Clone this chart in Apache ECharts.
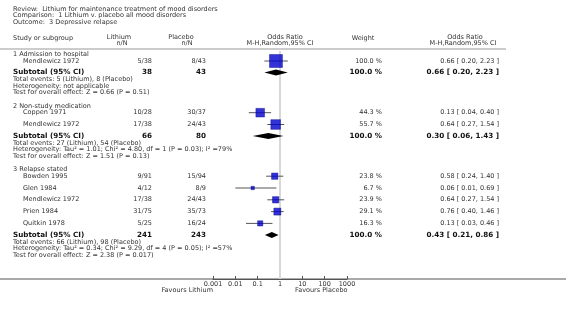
<!DOCTYPE html>
<html><head><meta charset="utf-8">
<script src="https://cdn.jsdelivr.net/npm/echarts@6/dist/echarts.min.js"></script>
<style>html,body{margin:0;padding:0;background:#fff}#c{width:566px;height:309px}</style>
</head><body><div id="c"></div>
<script>
// ---------- data ----------
const titleLines = ['Review:  Lithium for maintenance treatment of mood disorders','Comparison:  1 Lithium v. placebo all mood disorders','Outcome:  3 Depressive relapse'];
const groupTitles = ['1 Admission to hospital','2 Non-study medication','3 Relapse stated'];
const studyNames = ['Mendlewicz 1972','Coppen 1971','Mendlewicz 1972','Bowden 1995','Glen 1984','Mendlewicz 1972','Prien 1984','Quitkin 1978'];
const studyGroup = [0,1,1,2,2,2,2,2];
const lithiumEvents = [5,10,17,9,4,17,31,5];
const lithiumTotal = [38,28,38,91,12,38,75,25];
const placeboEvents = [8,30,24,15,8,24,35,16];
const placeboTotal = [43,37,43,94,9,43,73,24];
const studyOR = [0.66,0.13,0.64,0.58,0.06,0.64,0.76,0.13];
const studyLo = [0.20,0.04,0.27,0.24,0.01,0.27,0.40,0.03];
const studyHi = [2.23,0.40,1.54,1.40,0.69,1.54,1.46,0.46];
const studyWeight = [100.0,44.3,55.7,23.8,6.7,23.9,29.1,16.3];
const subtotalOR = [0.66,0.30,0.43];
const subtotalLo = [0.20,0.06,0.21];
const subtotalHi = [2.23,1.43,0.86];
const heterogeneityText = ['Heterogeneity: not applicable','Heterogeneity: Tau\u00b2 = 1.01; Chi\u00b2 = 4.80, df = 1 (P = 0.03); I\u00b2 =79%','Heterogeneity: Tau\u00b2 = 0.34; Chi\u00b2 = 9.29, df = 4 (P = 0.05); I\u00b2 =57%'];
const overallEffectText = ['Test for overall effect: Z = 0.66 (P = 0.51)','Test for overall effect: Z = 1.51 (P = 0.13)','Test for overall effect: Z = 2.38 (P = 0.017)'];
const tickValues = [0.001,0.01,0.1,1,10,100,1000];
const tickLabels = ['0.001','0.01','0.1','1','10','100','1000'];
const favoursLeft = 'Favours Lithium';
const favoursRight = 'Favours Placebo';

// ---------- layout ----------
const F = '"DejaVu Sans", Verdana, sans-serif';
const fReg = '6.5px ' + F;
const fBold = 'bold 7.2px ' + F;
const TXT = '#333';
const X = {name:13, study:23, lith:152, plac:206, weight:382, ci:499};
const rowY = {group:[], study:[], subtotal:[], events:[], het:[], test:[]};
let yy = 54.5;
for (let g = 0; g < groupTitles.length; g++) {
  rowY.group[g] = yy;
  let first = true;
  for (let i = 0; i < studyNames.length; i++) {
    if (studyGroup[i] !== g) continue;
    yy += first ? 6.5 : 11.8; first = false;
    rowY.study[i] = yy;
  }
  yy += 11.5; rowY.subtotal[g] = yy;
  yy += 7.3; rowY.events[g] = yy;
  yy += 6.4; rowY.het[g] = yy;
  yy += 6.4; rowY.test[g] = yy;
  yy += 13.6;
}

const g = [];
function txt(s, x, y, font, align, fill) {
  g.push({type:'text', x:x, y:y, silent:true, style:{text:s, font:font, fill:fill||TXT, align:align||'left', verticalAlign:'middle'}});
}
txt(titleLines[0], 13, 9, fReg);
txt(titleLines[1], 13, 15.5, fReg);
txt(titleLines[2], 13, 22, fReg);
txt('Study or subgroup', 13, 38, fReg);
txt('Lithium', 119, 37, fReg, 'center');
txt('n/N', 122, 43, fReg, 'center');
txt('Placebo', 181, 37, fReg, 'center');
txt('n/N', 187, 43, fReg, 'center');
txt('Odds Ratio', 285, 37, fReg, 'center');
txt('M-H,Random,95% CI', 280, 43, fReg, 'center');
txt('Weight', 363, 38, fReg, 'center');
txt('Odds Ratio', 465, 37, fReg, 'center');
txt('M-H,Random,95% CI', 463, 43, fReg, 'center');
g.push({type:'line', silent:true, shape:{x1:0,y1:49,x2:506,y2:49}, style:{stroke:'#999', lineWidth:1.2}});
g.push({type:'line', silent:true, shape:{x1:0,y1:279,x2:566,y2:279}, style:{stroke:'#555', lineWidth:1}});

const fmt2 = v => v.toFixed(2);
for (let k = 0; k < groupTitles.length; k++) {
  txt(groupTitles[k], X.name, rowY.group[k], fReg);
  let le=0, ln=0, pe=0, pn=0;
  for (let i = 0; i < studyNames.length; i++) {
    if (studyGroup[i] !== k) continue;
    le += lithiumEvents[i]; ln += lithiumTotal[i]; pe += placeboEvents[i]; pn += placeboTotal[i];
    const y = rowY.study[i];
    txt(studyNames[i], X.study, y, fReg);
    txt(lithiumEvents[i] + '/' + lithiumTotal[i], X.lith, y, fReg, 'right');
    txt(placeboEvents[i] + '/' + placeboTotal[i], X.plac, y, fReg, 'right');
    txt(studyWeight[i].toFixed(1) + ' %', X.weight, y, fReg, 'right');
    txt(fmt2(studyOR[i]) + ' [ ' + fmt2(studyLo[i]) + ', ' + fmt2(studyHi[i]) + ' ]', X.ci, y, fReg, 'right');
  }
  const ys = rowY.subtotal[k];
  txt('Subtotal (95% CI)', X.name, ys, fBold, 'left', '#111');
  txt(String(ln), X.lith, ys, fBold, 'right', '#111');
  txt(String(pn), X.plac, ys, fBold, 'right', '#111');
  txt('100.0 %', X.weight, ys, fBold, 'right', '#111');
  txt(fmt2(subtotalOR[k]) + ' [ ' + fmt2(subtotalLo[k]) + ', ' + fmt2(subtotalHi[k]) + ' ]', X.ci, ys, fBold, 'right', '#111');
  txt('Total events: ' + le + ' (Lithium), ' + pe + ' (Placebo)', X.name, rowY.events[k], fReg);
  txt(heterogeneityText[k], X.name, rowY.het[k], fReg);
  txt(overallEffectText[k], X.name, rowY.test[k], fReg);
}
txt(favoursLeft, 213, 290, fReg, 'right');
txt(favoursRight, 295, 290, fReg, 'left');

// ---------- series data ----------
const L = Math.log10;
const ciData = studyNames.map((_, i) => [L(studyLo[i]), L(studyHi[i]), rowY.study[i]]);
const boxData = studyNames.map((_, i) => ({value:[L(studyOR[i]), rowY.study[i]], symbolSize: 13*Math.sqrt(studyWeight[i]/100)}));
const diaData = groupTitles.map((_, k) => [L(subtotalLo[k]), L(subtotalOR[k]), L(subtotalHi[k]), rowY.subtotal[k]]);

const chart = echarts.init(document.getElementById('c'), null, {renderer:'canvas'});
chart.setOption({
  animation:false,
  backgroundColor:'#fff',
  grid:{left:213, right:566-347, top:0, bottom:309-279, containLabel:false},
  xAxis:{type:'value', position:'bottom', min:L(tickValues[0]), max:L(tickValues[tickValues.length-1]), interval:1,
    axisLine:{show:true, onZero:false, lineStyle:{color:'#555', width:1}},
    axisTick:{show:true, inside:true, length:3, lineStyle:{color:'#555'}},
    axisLabel:{fontSize:6.5, fontFamily:'DejaVu Sans', color:TXT, margin:2,
      formatter: v => tickLabels[Math.round(v - L(tickValues[0]))]},
    splitLine:{show:false}},
  yAxis:{type:'value', min:0, max:279, inverse:true, show:false},
  graphic:{elements:g},
  series:[
    {type:'line', data:[[0,51],[0,279]], symbol:'none', silent:true, lineStyle:{color:'#d8d8d8', width:2}, z:1},
    {type:'custom', silent:true, z:2, data:ciData,
      renderItem:(p, api) => {
        const a = api.coord([api.value(0), api.value(2)]);
        const b = api.coord([api.value(1), api.value(2)]);
        return {type:'line', shape:{x1:a[0], y1:a[1], x2:b[0], y2:b[1]}, style:{stroke:'#555', lineWidth:1}};
      }},
    {type:'scatter', symbol:'rect', silent:true, z:3, data:boxData, itemStyle:{color:'#0000cc', borderColor:'#00008a', borderWidth:0.5}},
    {type:'custom', silent:true, z:3, data:diaData,
      renderItem:(p, api) => {
        const y = api.value(3);
        const lo = api.coord([api.value(0), y]);
        const md = api.coord([api.value(1), y]);
        const hi = api.coord([api.value(2), y]);
        return {type:'polygon', shape:{points:[[lo[0],lo[1]],[md[0],md[1]-3],[hi[0],hi[1]],[md[0],md[1]+3]]}, style:{fill:'#000'}};
      }}
  ]
});
</script></body></html>
